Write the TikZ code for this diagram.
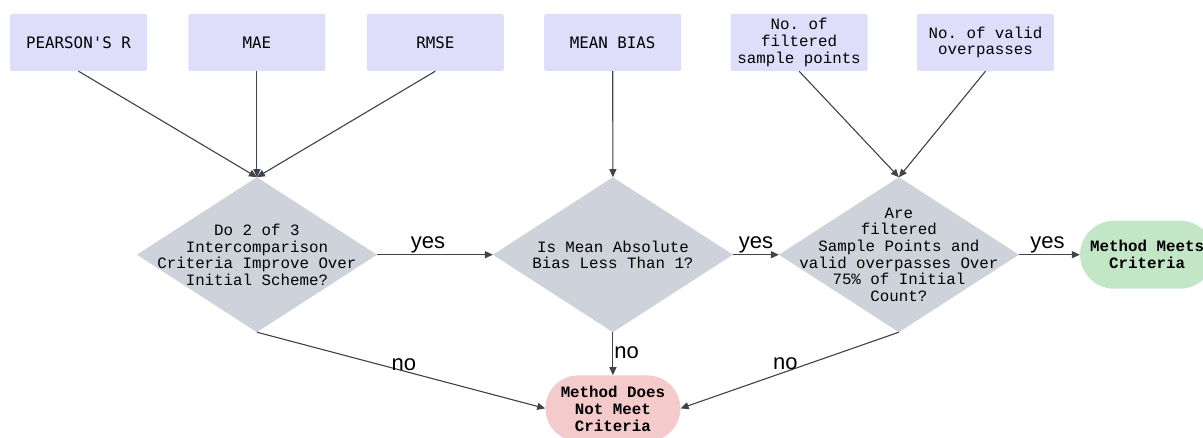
\documentclass[tikz,border=0pt]{standalone}
\usepackage{fontspec}
\setmainfont{Liberation Sans}
\setmonofont{Liberation Mono}
\newfontfamily\metricfont{DejaVu Sans Mono}
\usepackage{tikz}
\usetikzlibrary{arrows.meta,positioning,shapes.geometric}
\usepackage{xcolor}
\definecolor{boxblue}{HTML}{DEDEFA}
\definecolor{decgray}{HTML}{CED3DB}
\definecolor{okgreen}{HTML}{C3E6C6}
\definecolor{failred}{HTML}{F5CACB}
\definecolor{linegray}{HTML}{3F444C}

\begin{document}
\begin{tikzpicture}[
  x=1pt, y=-1pt,
  font=\fontsize{15.8}{16.6}\selectfont\ttfamily,
  src/.style={fill=boxblue,rounded corners=2pt,align=center,inner sep=2pt,
              minimum width=137pt,minimum height=57pt},
  decide/.style={diamond,fill=decgray,align=center,shape aspect=1.55,
                 inner xsep=-40pt,inner ysep=-30pt,outer sep=0pt,
                 minimum width=240pt,minimum height=155pt},
  term/.style={rounded corners=33pt,align=center,inner sep=2pt,
               font=\fontsize{15.8}{17}\selectfont\ttfamily\bfseries,
               minimum width=135pt,minimum height=66pt},
  arr/.style={-{Triangle[length=8pt,width=7pt]},draw=linegray,
              fill=linegray,line width=1.1pt},
  lbl/.style={font=\fontsize{22}{22}\selectfont\rmfamily,text=black},
]
\useasboundingbox (0,0) rectangle (1203,438);
% inputs
\node[src] (pearson) at (78.5,42.5) {\metricfont PEARSON'S R};
\node[src,right=41pt of pearson] (mae) {\metricfont MAE};
\node[src,right=41pt of mae] (rmse) {\metricfont RMSE};
\node[src,right=40pt of rmse] (meanbias) {\metricfont MEAN BIAS};
\node[src,right=49pt of meanbias] (filtered) {No. of\\filtered\\sample points};
\node[src,right=49pt of filtered] (valid) {No. of valid\\overpasses};
% decisions
\node[decide,below=106pt of mae] (d1) {Do 2 of 3\\Intercomparison\\Criteria Improve Over\\Initial Scheme?};
\node[decide,right=116pt of d1] (d2) {Is Mean Absolute\\Bias Less Than 1?};
\node[decide,right=46pt of d2] (d3) {Are\\filtered\\Sample Points and\\valid overpasses Over\\75\% of Initial\\Count?};
% outcomes
\node[term,fill=okgreen,right=61pt of d3,minimum width=134pt,minimum height=68pt,
      rounded corners=34pt] (pass) {Method Meets\\Criteria};
\node[term,fill=failred,below=43pt of d2] (fail) {Method Does\\Not Meet\\Criteria};
% connectors
\draw[arr] (pearson.south) -- (d1.north);
\draw[arr] (mae.south) -- (d1.north);
\draw[arr] (rmse.south) -- (d1.north);
\draw[arr] (meanbias.south) -- (d2.north);
\draw[arr] (filtered.south) -- (d3.north);
\draw[arr] (valid.south) -- (d3.north);
\draw[arr] (d1.east) -- node[lbl,above,inner sep=1pt,pos=0.44] {yes} (d2.west);
\draw[arr] (d2.east) -- node[lbl,above,inner sep=1pt,pos=0.5] {yes} (d3.west);
\draw[arr] (d3.east) -- node[lbl,above,inner sep=1pt,pos=0.47] {yes} (pass.west);
\draw[arr] (d1.south) -- node[lbl,above,inner sep=0pt,pos=0.51] {no} (fail.west);
\draw[arr] (d2.south) -- node[lbl,right,inner sep=1pt,pos=0.48] {no} (fail.north);
\draw[arr] (d3.south) -- node[lbl,above,inner sep=1.5pt,pos=0.52] {no} (fail.east);
\end{tikzpicture}
\end{document}
